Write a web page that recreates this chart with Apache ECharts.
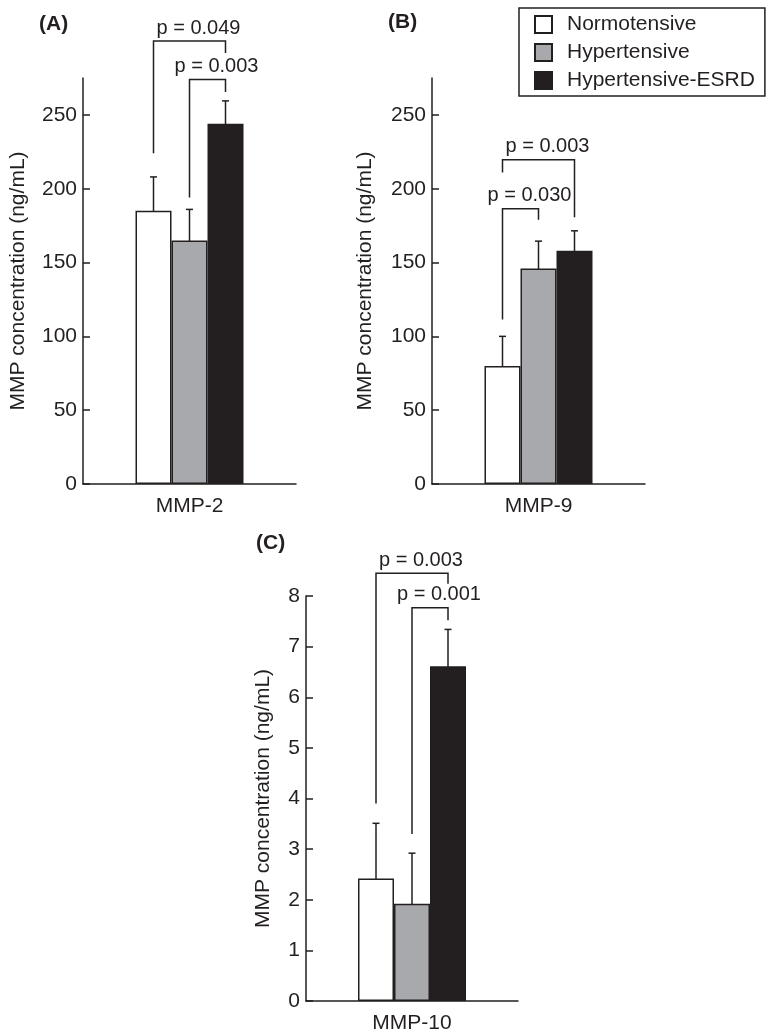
<!DOCTYPE html>
<html>
<head>
<meta charset="utf-8">
<script src="https://cdn.jsdelivr.net/npm/echarts@6/dist/echarts.min.js"></script>
<style>
html,body{margin:0;padding:0;background:#fff;}
#chart{width:774px;height:1034px;}
</style>
</head>
<body>
<div id="chart"></div>
<script>
// ---- data ----
const groups = ['Normotensive', 'Hypertensive', 'Hypertensive-ESRD'];
const panelLabels = ['(A)', '(B)', '(C)'];
const categoriesA = ['MMP-2'];
const categoriesB = ['MMP-9'];
const categoriesC = ['MMP-10'];
const mmp2Mean = [185, 165, 244];
const mmp2Err = [23, 21, 15.5];
const mmp9Mean = [80, 146, 158];
const mmp9Err = [20, 18.5, 13.5];
const mmp10Mean = [2.42, 1.92, 6.61];
const mmp10Err = [1.09, 1.0, 0.73];
const ticksA = [0, 50, 100, 150, 200, 250];
const ticksB = [0, 50, 100, 150, 200, 250];
const ticksC = [0, 1, 2, 3, 4, 5, 6, 7, 8];
// brackets: [fromGroup, toGroup, leftLegEnd, topValue, rightLegEnd, label]
const bracketsA = [[0, 2, 224, 300, 292, 'p = 0.049'], [1, 2, 194, 274, 265.5, 'p = 0.003']];
const bracketsB = [[0, 1, 111.5, 186.5, 179, 'p = 0.030'], [0, 2, 211, 219.6, 180.6, 'p = 0.003']];
const bracketsC = [[0, 2, 3.9, 8.45, 8.24, 'p = 0.003'], [1, 2, 3.3, 7.77, 7.52, 'p = 0.001']];

// ---- style ----
const INK = '#231f20';
const FILLS = ['#ffffff', '#a7a9ac', '#231f20'];
const BAR_W = 36;
const FONT = 'Liberation Sans, Arial, Helvetica, sans-serif';
const FS = 21;

const panels = [
  {cats: categoriesA, mean: mmp2Mean, err: mmp2Err, ticks: ticksA, br: bracketsA, max: 275,
   grid: {left: 83, top: 78, width: 213, height: 406}, nameGap: 54},
  {cats: categoriesB, mean: mmp9Mean, err: mmp9Err, ticks: ticksB, br: bracketsB, max: 275,
   grid: {left: 432, top: 78, width: 213, height: 406}, nameGap: 56},
  {cats: categoriesC, mean: mmp10Mean, err: mmp10Err, ticks: ticksC, br: bracketsC, max: 8,
   grid: {left: 306, top: 596, width: 212, height: 406}, nameGap: 32}
];

const grid = [], xAxis = [], yAxis = [], series = [];
panels.forEach((p, pi) => {
  grid.push(Object.assign({containLabel: false}, p.grid));
  xAxis.push({
    type: 'category', gridIndex: pi, data: p.cats,
    axisLine: {lineStyle: {color: INK, width: 1.5}},
    axisTick: {show: false},
    axisLabel: {color: INK, fontFamily: FONT, fontSize: FS, margin: 12}
  });
  yAxis.push({
    type: 'value', gridIndex: pi, min: 0, max: p.max,
    name: 'MMP concentration (ng/mL)', nameLocation: 'middle', nameGap: p.nameGap,
    nameTextStyle: {color: INK, fontFamily: FONT, fontSize: FS},
    axisLine: {show: true, lineStyle: {color: INK, width: 1.5}},
    axisTick: {show: true, inside: true, length: 7, lineStyle: {color: INK, width: 1.5}, customValues: p.ticks},
    axisLabel: {color: INK, fontFamily: FONT, fontSize: FS, margin: 6, customValues: p.ticks},
    splitLine: {show: false}
  });
  groups.forEach((g, gi) => {
    series.push({
      type: 'bar', name: g, xAxisIndex: pi, yAxisIndex: pi,
      data: [p.mean[gi]], barWidth: BAR_W, barGap: '0%',
      itemStyle: {color: FILLS[gi], borderColor: INK, borderWidth: 1.5},
      emphasis: {disabled: true}, animation: false
    });
  });
  // error bars
  series.push({
    type: 'custom', xAxisIndex: pi, yAxisIndex: pi, animation: false, silent: true,
    data: p.mean.map((m, gi) => [0, m, p.err[gi], gi]),
    encode: {x: 0, y: 1},
    renderItem: function (params, api) {
      const gi = api.value(3);
      const c = api.coord([0, api.value(1)]);
      const x = c[0] + (gi - 1) * BAR_W;
      const yt = api.coord([0, api.value(1) + api.value(2)])[1];
      const yb = api.coord([0, api.value(1) - api.value(2)])[1];
      const cap = 3.5;
      const st = {stroke: INK, lineWidth: 1.5, fill: null};
      return {type: 'group', children: [
        {type: 'line', shape: {x1: x, y1: yt, x2: x, y2: yb}, style: st},
        {type: 'line', shape: {x1: x - cap, y1: yt, x2: x + cap, y2: yt}, style: st},
        {type: 'line', shape: {x1: x - cap, y1: yb, x2: x + cap, y2: yb}, style: st}
      ]};
    }
  });
  // significance brackets
  series.push({
    type: 'custom', xAxisIndex: pi, yAxisIndex: pi, animation: false, silent: true,
    data: p.br.map(b => [0, b[3], b[0], b[1], b[2], b[4]]),
    encode: {x: 0, y: 1},
    renderItem: function (params, api) {
      const b = p.br[params.dataIndex];
      const cx = api.coord([0, 0])[0];
      const xl = cx + (b[0] - 1) * BAR_W;
      const xr = cx + (b[1] - 1) * BAR_W;
      const yl = api.coord([0, b[2]])[1];
      const yt = api.coord([0, b[3]])[1];
      const yr = api.coord([0, b[4]])[1];
      return {type: 'group', children: [
        {type: 'polyline', shape: {points: [[xl, yl], [xl, yt], [xr, yt], [xr, yr]]},
         style: {stroke: INK, lineWidth: 1.5, fill: null}},
        {type: 'text', x: (xl + xr) / 2 + 9, y: yt - 3,
         style: {text: b[5], fill: INK, font: '20px ' + FONT, align: 'center', verticalAlign: 'bottom'}}
      ]};
    }
  });
});

const titlePos = [{left: 39, top: 14}, {left: 388, top: 12}, {left: 256, top: 533}];
const title = panelLabels.map((t, i) => Object.assign({
  text: t, padding: 0,
  textStyle: {color: INK, fontFamily: FONT, fontSize: 21, fontWeight: 'bold'}
}, titlePos[i]));

const chart = echarts.init(document.getElementById('chart'), null, {renderer: 'canvas'});
chart.setOption({
  animation: false,
  backgroundColor: '#ffffff',
  title: title,
  legend: {
    data: groups, orient: 'vertical', left: 519, top: 8,
    padding: [6, 10, 5, 15], itemGap: 7,
    itemWidth: 17, itemHeight: 17, icon: 'rect',
    borderColor: INK, borderWidth: 1.5, borderRadius: 0,
    selectedMode: false,
    textStyle: {color: INK, fontFamily: FONT, fontSize: FS, padding: [0, 0, 0, 10]}
  },
  grid: grid, xAxis: xAxis, yAxis: yAxis, series: series
});
</script>
</body>
</html>
